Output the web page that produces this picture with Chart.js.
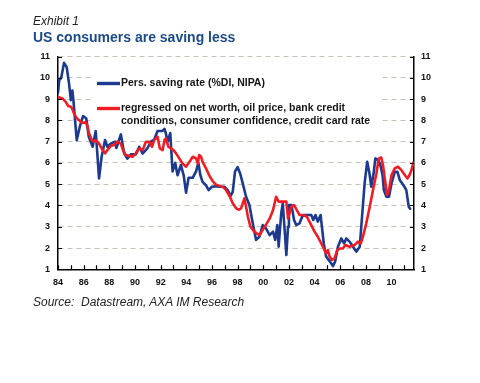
<!DOCTYPE html>
<html><head><meta charset="utf-8">
<script src="https://cdn.jsdelivr.net/npm/chart.js@4/dist/chart.umd.min.js"></script>
<style>
html,body{margin:0;padding:0;background:#fff;}
#wrap{position:relative;width:480px;height:383px;overflow:hidden;background:#fff;}
canvas{position:absolute;left:0;top:0;}
.t{position:absolute;font-family:"Liberation Sans",Arial,sans-serif;white-space:nowrap;}
</style></head><body>
<div id="wrap">
<canvas id="c" width="480" height="383"></canvas>
<div class="t" style="left:33px;top:14px;font-size:12px;font-style:italic;color:#222;">Exhibit 1</div>
<div class="t" style="left:33px;top:28.5px;font-size:14px;font-weight:bold;color:#1b4a88;">US consumers are saving less</div>
<div class="t" style="left:33px;top:294.5px;font-size:12px;font-style:italic;color:#222;">Source:&nbsp; Datastream, AXA IM Research</div>
</div>
<script>
// ---- data (decimal years, %) ----
const savingYears = [1984.0,1984.1,1984.25,1984.47,1984.68,1984.86,1985.0,1985.12,1985.2,1985.46,1985.7,1985.95,1986.2,1986.4,1986.7,1986.94,1987.2,1987.4,1987.67,1987.85,1988.1,1988.45,1988.55,1988.9,1989.16,1989.4,1989.68,1990.07,1990.33,1990.59,1990.98,1991.24,1991.5,1991.76,1992.15,1992.3,1992.4,1992.55,1992.75,1992.93,1993.14,1993.32,1993.58,1993.8,1993.98,1994.18,1994.5,1994.76,1994.94,1995.1,1995.27,1995.53,1995.74,1996.0,1996.3,1996.57,1996.97,1997.23,1997.44,1997.62,1997.8,1998.0,1998.2,1998.4,1998.66,1998.92,1999.18,1999.44,1999.7,1999.96,2000.2,2000.5,2000.76,2000.93,2001.1,2001.2,2001.4,2001.52,2001.65,2001.8,2001.93,2002.0,2002.2,2002.4,2002.57,2002.83,2003.03,2003.2,2003.5,2003.74,2003.9,2004.07,2004.25,2004.47,2004.57,2004.72,2004.9,2005.2,2005.43,2005.6,2005.82,2006.08,2006.3,2006.47,2006.73,2007.0,2007.25,2007.52,2007.7,2007.9,2008.1,2008.28,2008.42,2008.6,2008.74,2008.95,2009.1,2009.3,2009.4,2009.6,2009.8,2010.0,2010.25,2010.46,2010.64,2010.82,2011.0,2011.15,2011.34,2011.45];
const savingRate = [9.3,9.9,10.0,10.7,10.5,9.73,8.95,9.4,8.95,7.07,7.7,8.2,8.1,7.23,6.76,7.5,5.27,6.29,7.07,6.76,6.9,7.0,6.7,7.34,6.44,6.2,6.4,6.4,6.76,6.44,6.7,7.0,7.1,7.5,7.5,7.6,7.4,7.0,7.4,5.6,6.0,5.42,5.9,5.4,4.6,5.3,5.3,5.6,6.0,5.42,5.11,4.95,4.72,4.88,4.9,4.88,4.88,4.72,4.44,4.64,5.6,5.8,5.5,5.04,4.41,4.02,3.16,2.38,2.53,3.08,2.93,2.61,2.77,2.38,3.08,2.06,3.63,4.1,3.0,1.67,3.0,4.02,4.02,3.32,3.08,3.16,3.47,3.55,3.55,3.55,3.32,3.55,3.24,3.55,3.0,2.2,1.6,1.36,1.15,1.36,2.06,2.45,2.22,2.45,2.3,2.06,1.83,2.06,3.47,5.04,6.05,5.5,4.88,5.5,6.21,6.13,5.97,5.42,4.72,4.41,4.41,5.04,5.58,5.58,5.2,5.04,4.88,4.72,3.94,3.85];
const modelYears = [1984.0,1984.34,1984.6,1984.8,1985.0,1985.1,1985.25,1985.43,1985.65,1985.9,1986.16,1986.3,1986.42,1986.64,1986.8,1986.94,1987.2,1987.4,1987.67,1987.85,1988.1,1988.37,1988.63,1988.9,1989.07,1989.28,1989.54,1989.8,1990.07,1990.33,1990.6,1990.85,1991.1,1991.33,1991.5,1991.76,1991.94,1992.15,1992.3,1992.4,1992.6,1992.8,1993.0,1993.2,1993.45,1993.7,1993.98,1994.25,1994.5,1994.76,1994.9,1995.0,1995.15,1995.27,1995.54,1995.8,1996.05,1996.3,1996.6,1996.9,1997.1,1997.4,1997.62,1997.9,1998.1,1998.27,1998.53,1998.66,1998.8,1999.0,1999.3,1999.7,1999.96,2000.2,2000.5,2000.76,2001.0,2001.2,2001.55,2001.8,2001.93,2002.2,2002.4,2002.83,2003.1,2003.4,2003.74,2004.0,2004.25,2004.65,2004.9,2005.04,2005.17,2005.35,2005.56,2005.77,2005.95,2006.2,2006.4,2006.73,2007.12,2007.38,2007.6,2007.77,2008.03,2008.3,2008.55,2008.82,2009.0,2009.2,2009.33,2009.47,2009.65,2009.8,2010.0,2010.25,2010.5,2010.77,2011.03,2011.24,2011.4,2011.55,2011.7];
const modelRate = [9.1,9.03,8.87,8.67,8.64,8.55,8.32,8.13,8.0,7.88,7.92,7.72,7.38,7.07,7.0,7.07,6.9,6.68,6.45,6.6,6.79,6.84,7.0,6.9,6.6,6.37,6.33,6.29,6.45,6.68,6.6,6.99,6.99,6.76,7.07,7.23,6.68,6.6,7.07,7.15,6.76,6.68,6.6,6.45,6.21,5.97,5.82,6.05,6.29,6.21,5.97,6.37,6.29,6.05,5.74,5.4,5.15,4.98,4.92,4.85,4.72,4.41,4.1,3.86,3.8,3.86,4.33,3.94,3.47,3.0,2.77,2.6,2.85,3.08,3.39,3.78,4.41,4.18,4.18,4.18,3.39,3.94,4.02,3.55,3.55,3.47,3.08,2.77,2.53,2.06,1.75,1.9,1.6,1.44,1.52,1.9,1.98,1.98,2.14,2.06,2.14,2.3,2.22,2.53,3.16,3.94,4.72,5.5,6.21,6.25,5.9,5.27,4.49,4.72,5.43,5.74,5.82,5.66,5.43,5.27,5.43,5.66,6.0];
const seriesNames = ["Pers. saving rate (%DI, NIPA)", "regressed on net worth, oil price, bank credit", "conditions, consumer confidence, credit card rate"];
const yTickValues = [1,2,3,4,5,6,7,8,9,10,11];
const xTickYears = [1984,1985,1986,1987,1988,1989,1990,1991,1992,1993,1994,1995,1996,1997,1998,1999,2000,2001,2002,2003,2004,2005,2006,2007,2008,2009,2010,2011];
const xLabelYears = [1984,1986,1988,1990,1992,1994,1996,1998,2000,2002,2004,2006,2008,2010];
const xLabels = ["84","86","88","90","92","94","96","98","00","02","04","06","08","10"];

const BLUE = '#1c3a8f', RED = '#f01c24', GRID = '#c9c0b6';
const FONT = '"Liberation Sans", Arial, sans-serif';

const pts = (xs, ys) => xs.map((x, i) => ({x: x, y: ys[i]}));

const innerTicks = {
  id: 'innerTicks',
  afterDatasetsDraw(chart) {
    const {ctx, chartArea: a, scales} = chart;
    ctx.save();
    ctx.strokeStyle = '#000'; ctx.lineWidth = 1.2;
    ctx.beginPath();
    xTickYears.forEach(v => { const px = Math.round(scales.x.getPixelForValue(v)) + 0.5; ctx.moveTo(px, a.bottom); ctx.lineTo(px, a.bottom - 4); });
    yTickValues.forEach(v => {
      const py = Math.round(scales.y.getPixelForValue(v)) + 0.5;
      ctx.moveTo(a.left, py); ctx.lineTo(a.left + 4, py);
      ctx.moveTo(a.right, py); ctx.lineTo(a.right - 4, py);
    });
    ctx.stroke();
    ctx.restore();
  }
};

const legendBox = {
  id: 'legendBox',
  beforeDatasetsDraw(chart) {
    const {ctx, chartArea: a} = chart;
    const x0 = a.left + 35, y0 = a.top + 6;
    ctx.save();
    ctx.fillStyle = '#fff';
    ctx.fillRect(x0, y0, 287, 72);
    ctx.lineCap = 'butt';
    ctx.lineWidth = 3.4;
    ctx.strokeStyle = BLUE;
    ctx.beginPath(); ctx.moveTo(x0 + 4, y0 + 21); ctx.lineTo(x0 + 27, y0 + 21); ctx.stroke();
    ctx.strokeStyle = RED;
    ctx.beginPath(); ctx.moveTo(x0 + 4, y0 + 46); ctx.lineTo(x0 + 27, y0 + 46); ctx.stroke();
    ctx.fillStyle = '#151515';
    ctx.font = 'bold 10.5px ' + FONT;
    ctx.textBaseline = 'middle';
    ctx.textAlign = 'left';
    ctx.fillText(seriesNames[0], x0 + 28, y0 + 21);
    ctx.fillText(seriesNames[1], x0 + 28, y0 + 46);
    ctx.fillText(seriesNames[2], x0 + 28, y0 + 58.5);
    ctx.restore();
  }
};

new Chart(document.getElementById('c'), {
  type: 'line',
  data: {
    datasets: [
      {label: seriesNames[0], data: pts(savingYears, savingRate), borderColor: BLUE, borderWidth: 2.6, pointRadius: 0, tension: 0, order: 1, yAxisID: 'y'},
      {label: seriesNames[1], data: pts(modelYears, modelRate), borderColor: RED, borderWidth: 2.6, pointRadius: 0, tension: 0, order: 0, yAxisID: 'y'}
    ]
  },
  options: {
    responsive: false, animation: false, devicePixelRatio: 1,
    layout: {padding: {top: 56.5, left: 0, right: 0, bottom: 0}},
    plugins: {legend: {display: false}, tooltip: {enabled: false}},
    elements: {line: {borderJoinStyle: 'round', borderCapStyle: 'round'}},
    scales: {
      x: {
        type: 'linear', min: 1984, max: 2011.75, position: 'bottom',
        afterBuildTicks: s => { s.ticks = xTickYears.map(v => ({value: v})); },
        afterFit: s => { s.height = 113.7; },
        grid: {display: false, drawTicks: false},
        border: {display: true, color: '#000', width: 1.5},
        ticks: {
          autoSkip: false, maxRotation: 0, padding: 8, color: '#111',
          font: {family: FONT, size: 9, weight: 'bold'},
          callback: v => { const i = xLabelYears.indexOf(v); return i >= 0 ? xLabels[i] : ''; }
        }
      },
      y: {
        type: 'linear', min: 1, max: 11, position: 'left',
        afterBuildTicks: s => { s.ticks = yTickValues.map(v => ({value: v})); },
        afterFit: s => { s.width = 58; },
        grid: {drawTicks: false, lineWidth: 1, color: c => (c.tick && c.tick.value === 1) ? 'rgba(0,0,0,0)' : GRID},
        border: {display: true, color: '#000', width: 1.5, dash: [5, 4]},
        ticks: {padding: 8, color: '#111', font: {family: FONT, size: 9, weight: 'bold'}}
      },
      y2: {
        type: 'linear', min: 1, max: 11, position: 'right',
        afterBuildTicks: s => { s.ticks = yTickValues.map(v => ({value: v})); },
        afterFit: s => { s.width = 66; },
        grid: {display: false, drawTicks: false},
        border: {display: true, color: '#000', width: 1.5},
        ticks: {padding: 7, color: '#111', font: {family: FONT, size: 9, weight: 'bold'}}
      }
    }
  },
  plugins: [legendBox, innerTicks]
});
</script>
</body></html>
